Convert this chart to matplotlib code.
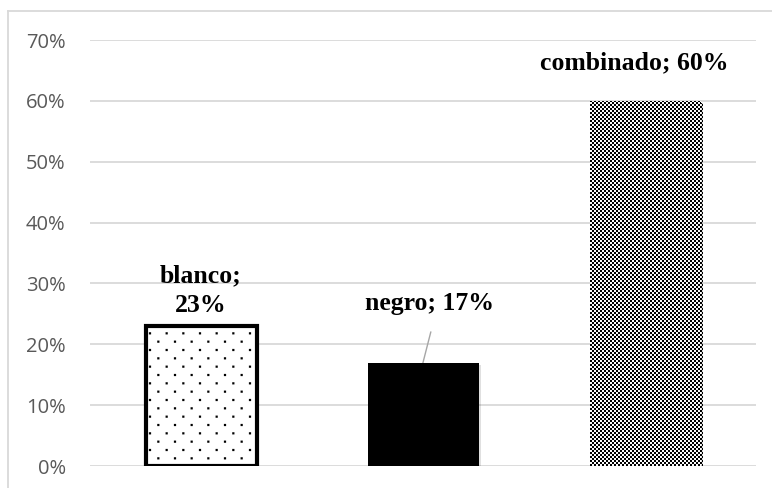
import numpy as np
import matplotlib
matplotlib.use("Agg")
import matplotlib.pyplot as plt
from matplotlib import hatch as mhatch
from matplotlib.path import Path
from matplotlib.lines import Line2D
import matplotlib.patheffects as pe

# ---- data ----
categories = ["blanco", "negro", "combinado"]
values = [0.23, 0.17, 0.60]
yticks = [0.0, 0.1, 0.2, 0.3, 0.4, 0.5, 0.6, 0.7]


# ---- custom hatch patterns (staggered dots / checkerboard) ----
def _square(cx, cy, s):
    h = s / 2.0
    return [(cx - h, cy - h), (cx + h, cy - h), (cx + h, cy + h), (cx - h, cy + h), (cx - h, cy - h)]


class StaggerDots(mhatch.HatchPatternBase):
    def __init__(self, hatch, density):
        self.active = hatch.count('.') > 0
        self.rows = 12
        self.cols = 6
        self.size = 0.022
        pts = []
        if self.active:
            for r in range(self.rows + 1):
                y = r / self.rows
                if r % 2 == 0:
                    xs = [k / self.cols for k in range(self.cols + 1)]
                else:
                    xs = [(k + 0.5) / self.cols for k in range(self.cols)]
                for x in xs:
                    pts.append((x, y))
        self.pts = pts
        self.num_vertices = 5 * len(pts)

    def set_vertices_and_codes(self, vertices, codes):
        i = 0
        for (x, y) in self.pts:
            vertices[i:i + 5] = _square(x, y, self.size)
            codes[i] = Path.MOVETO
            codes[i + 1:i + 4] = Path.LINETO
            codes[i + 4] = Path.CLOSEPOLY
            i += 5


class Checker(mhatch.HatchPatternBase):
    def __init__(self, hatch, density):
        self.active = hatch.count('+') > 0
        self.n = 50
        cells = []
        if self.active:
            for i in range(self.n):
                for j in range(self.n):
                    if (i + j) % 2 == 0:
                        cells.append(((i + 0.5) / self.n, (j + 0.5) / self.n))
        self.cells = cells
        self.num_vertices = 5 * len(cells)

    def set_vertices_and_codes(self, vertices, codes):
        s = 1.0 / self.n
        i = 0
        for (x, y) in self.cells:
            vertices[i:i + 5] = _square(x, y, s)
            codes[i] = Path.MOVETO
            codes[i + 1:i + 4] = Path.LINETO
            codes[i + 4] = Path.CLOSEPOLY
            i += 5


mhatch._hatch_types = [StaggerDots, Checker]

plt.rcParams['hatch.linewidth'] = 0.01
plt.rcParams['hatch.color'] = 'black'

# ---- figure ----
W, H = 772, 488
fig = plt.figure(figsize=(W / 100, H / 100), dpi=100)
fig.patch.set_facecolor('white')

ax = fig.add_axes([90 / W, 1 - 466 / H, (756 - 90) / W, (466 - 40) / H])
x = np.arange(len(categories))

ax.set_xlim(-0.5, len(categories) - 0.5)
ax.set_ylim(0, 0.7)

ax.set_yticks(yticks)
ax.set_yticklabels([f"{int(round(t * 100))}%" for t in yticks],
                   fontfamily="Open Sans", fontsize=14.5, color="#595959")
ax.tick_params(axis='y', length=0, pad=17.5)
ax.set_xticks([])
for s in ax.spines.values():
    s.set_visible(False)
ax.grid(axis='y', color='#d9d9d9', linewidth=1.3)
ax.set_axisbelow(True)

shadow = [pe.SimplePatchShadow(offset=(1.5, -1.5), shadow_rgbFace='#000000', alpha=0.12), pe.Normal()]

# blanco
ax.bar(x[0], values[0], width=0.5, facecolor='white', edgecolor='black',
       linewidth=3.0, hatch='.', zorder=3)
# negro
ax.bar(x[1], values[1], width=0.5, facecolor='black', edgecolor='black',
       linewidth=0, zorder=3, path_effects=shadow)
# combinado
ax.bar(x[2], values[2], width=0.5, facecolor='white', edgecolor='black',
       linewidth=0, hatch='+', zorder=3, path_effects=shadow)

lab_font = dict(fontfamily="Liberation Serif", fontweight="bold", fontsize=18.5,
                color="black", ha="center", va="center")

# data labels
ax.text(x[0], values[0] + 0.058, f"{categories[0]};\n{int(round(values[0]*100))}%",
        linespacing=1.4, **lab_font)
ax.text(x[1] + 0.03, values[1] + 0.097, f"{categories[1]}; {int(round(values[1]*100))}%",
        **lab_font)
ax.text(x[2] - 0.05, values[2] + 0.063, f"{categories[2]}; {int(round(values[2]*100))}%",
        **lab_font)
# leader line for negro label
ax.plot([x[1] + 0.035, x[1]], [values[1] + 0.050, values[1]], color='#a6a6a6',
        linewidth=1.0, zorder=2)

# outer chart border (left and top visible)
fig.add_artist(Line2D([7.5 / W, 7.5 / W], [0, 1 - 10.5 / H], color='#d9d9d9',
                      linewidth=1.3, transform=fig.transFigure))
fig.add_artist(Line2D([7.5 / W, 1], [1 - 10.5 / H, 1 - 10.5 / H], color='#d9d9d9',
                      linewidth=1.3, transform=fig.transFigure))

fig.savefig("out.png", dpi=100)
